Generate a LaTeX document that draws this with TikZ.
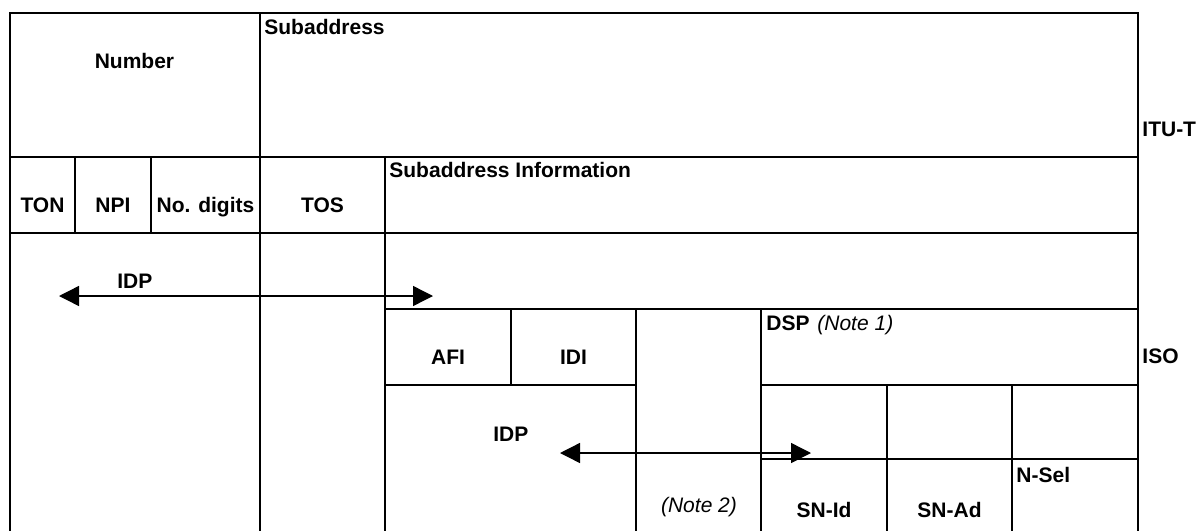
\documentclass[tikz,border=0pt]{standalone}
\usepackage{fontspec}
\setmainfont{Liberation Sans}
\usetikzlibrary{arrows.meta}
\begin{document}
\begin{tikzpicture}[x=0.5pt,y=-0.5pt,
  grid/.style={line width=1pt,line cap=rect},
  span/.style={line width=0.7pt,{Triangle[length=10pt,width=10pt]}-{Triangle[length=10pt,width=10pt]}},
  lbl/.style={font=\fontsize{10.5}{12}\selectfont\bfseries,inner sep=0pt,anchor=base},
  lblw/.style={lbl,anchor=base west},
  note/.style={font=\fontsize{10.5}{12}\selectfont\itshape,inner sep=0pt}]
\useasboundingbox (0,0) rectangle (1197,530);

% ITU-T part: number and subaddress fields
\draw[grid] (10,530) -- (10,13) -- (1138,13) -- (1138,530);
\draw[grid] (10,157) -- (1138,157);
\draw[grid] (10,233) -- (1138,233);
\draw[grid] (75,157) -- (75,233);
\draw[grid] (151,157) -- (151,233);
\draw[grid] (260,13) -- (260,530);
\draw[grid] (385,157) -- (385,530);

% ISO part: IDP / DSP structure
\draw[grid] (385,309) -- (1138,309);
\draw[grid] (385,385) -- (636,385);
\draw[grid] (761,385) -- (1138,385);
\draw[grid] (761,459) -- (1138,459);
\draw[grid] (511,309) -- (511,385);
\draw[grid] (636,309) -- (636,530);
\draw[grid] (761,309) -- (761,530);
\draw[grid] (887,385) -- (887,530);
\draw[grid] (1012,385) -- (1012,530);

% labels
\node[lbl]  (number)  at (134.5,68)  {Number};
\node[lblw] (subaddr) at (264,34)    {Subaddress};
\node[lblw] (itut)    at (1142,136)  {ITU-T};
\node[lbl]  (ton)     at (42.5,212)  {TON};
\node[lbl]  (npi)     at (113,212)   {NPI};
\node[lbl]  (digits)  at (205.5,212) {No. digits};
\node[lbl]  (tos)     at (322.5,212) {TOS};
\node[lblw] (subinfo) at (389,177)   {Subaddress Information};
\node[lblw] (idpa)    at (117,288)   {IDP};
\node[lbl]  (afi)     at (448,364)   {AFI};
\node[lbl]  (idi)     at (573.5,364) {IDI};
\node[lblw] (dsp)     at (766,330)   {DSP};
\node[note,anchor=base west] (note1) at (817,330) {(Note 1)};
\node[lblw] (iso)     at (1142,363)  {ISO};
\node[lblw] (idpb)    at (493,441)   {IDP};
\node[note,anchor=base] (note2) at (699,512) {(Note 2)};
\node[lbl]  (snid)    at (824,517)   {SN-Id};
\node[lbl]  (snad)    at (949.5,517) {SN-Ad};
\node[lblw] (nsel)    at (1016,482)  {N-Sel};

% extent arrows of the IDP in both address forms
\coordinate (ia) at (59,296);
\coordinate (ib) at (433,296);
\coordinate (ja) at (560,453);
\coordinate (jb) at (811,453);
\draw[span] (ia) -- (ib);
\draw[span] (ja) -- (jb);
\end{tikzpicture}
\end{document}
